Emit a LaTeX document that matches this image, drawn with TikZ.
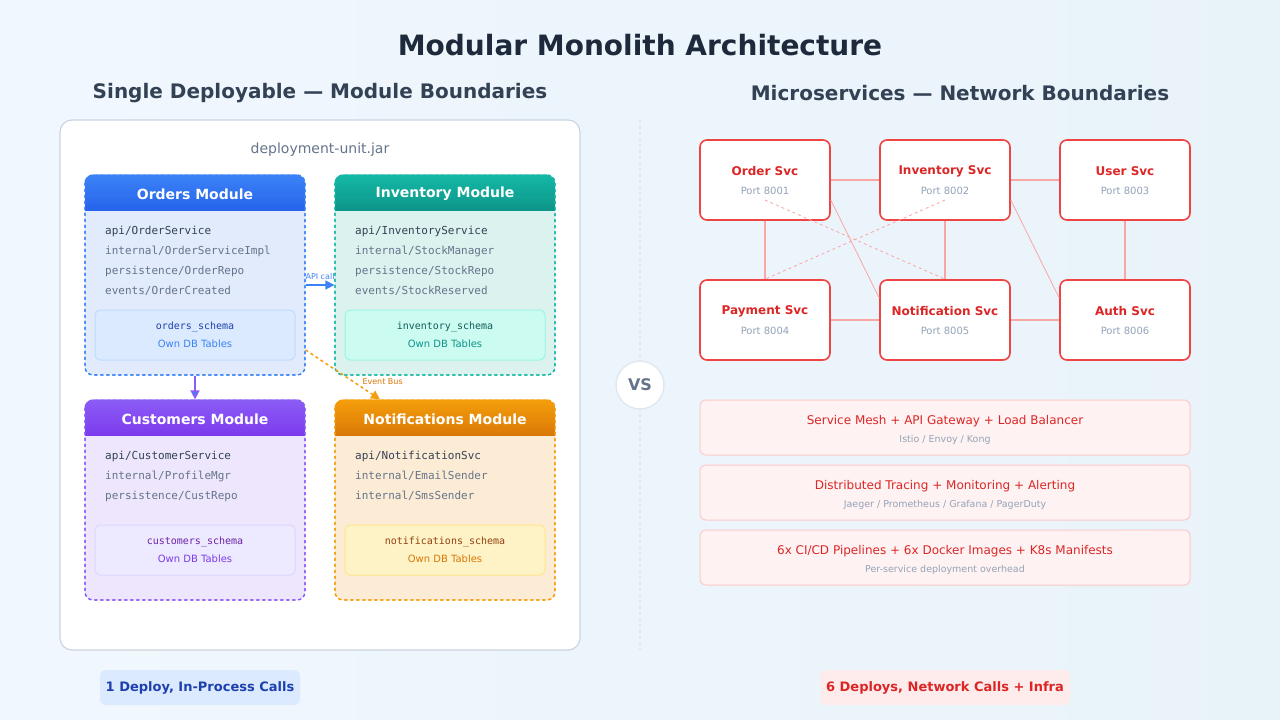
\documentclass[tikz,border=0pt]{standalone}
\usepackage{fontspec}
\setmainfont{DejaVu Sans}
\setmonofont{DejaVu Sans Mono}
\usetikzlibrary{arrows.meta}
\definecolor{bgA}{HTML}{F1F7FE}\definecolor{bgB}{HTML}{E8F3F9}
\definecolor{slate}{HTML}{1E293B}\definecolor{slateb}{HTML}{334155}
\definecolor{gr}{HTML}{64748B}\definecolor{lg}{HTML}{94A3B8}
\definecolor{bord}{HTML}{CBD5E1}\definecolor{divc}{HTML}{E2E8F0}
\definecolor{bl1}{HTML}{3B82F6}\definecolor{bl2}{HTML}{2563EB}\definecolor{blf}{HTML}{E1EBFC}
\definecolor{bls}{HTML}{DBEAFE}\definecolor{blb}{HTML}{BFDBFE}\definecolor{blt}{HTML}{1E40AF}
\definecolor{te1}{HTML}{14B8A6}\definecolor{te2}{HTML}{0D9488}\definecolor{tef}{HTML}{DCF2EF}
\definecolor{tes}{HTML}{CCFBF1}\definecolor{teb}{HTML}{99F6E4}\definecolor{tet}{HTML}{115E59}
\definecolor{pu1}{HTML}{8B5CF6}\definecolor{pu2}{HTML}{7C3AED}\definecolor{puf}{HTML}{EDE6FD}
\definecolor{pus}{HTML}{EDE9FE}\definecolor{pub}{HTML}{DDD6FE}\definecolor{put}{HTML}{6B21A8}
\definecolor{or1}{HTML}{F59E0B}\definecolor{or2}{HTML}{D97706}\definecolor{orf}{HTML}{FDECD5}
\definecolor{ors}{HTML}{FEF3C7}\definecolor{orb}{HTML}{FDE68A}\definecolor{ort}{HTML}{92400E}
\definecolor{rd}{HTML}{EF4444}\definecolor{rdt}{HTML}{DC2626}\definecolor{rdl}{HTML}{FCA5A5}
\definecolor{rdf}{HTML}{FEF2F2}\definecolor{rdb}{HTML}{FECACA}\definecolor{rdp}{HTML}{FEE2E2}
\definecolor{codec}{HTML}{334155}\definecolor{codeg}{HTML}{64748B}
\tikzset{
 mod/.style={draw=#1,dashed,line width=1.2pt,rounded corners=8pt,minimum width=220pt,minimum height=200pt,inner sep=0pt},
 code/.style={anchor=west,font=\ttfamily\fontsize{11}{11}\selectfont,text=codeg,inner sep=0pt},
 codeb/.style={code,text=codec},
 schema/.style={rounded corners=5pt,minimum width=200pt,minimum height=50pt,line width=1pt,inner sep=0pt},
 svc/.style={draw=rd,line width=1.6pt,fill=white,rounded corners=7pt,minimum width=130pt,minimum height=80pt,inner sep=0pt},
 link/.style={draw=rdl,line width=1.1pt},
 info/.style={fill=rdf,draw=rdb,line width=1pt,rounded corners=6pt,minimum width=490pt,minimum height=55pt,inner sep=0pt},
 hd/.style={font=\bfseries\fontsize{14}{14}\selectfont,text=white},
}
\newcommand{\modhead}[5]{% x y name c1 c2
 \shade[top color=#4,bottom color=#5,rounded corners=8pt] (#1,#2) rectangle ++(220,35);
 \shade[top color=#4!50!#5,bottom color=#5] (#1,#2+20) rectangle ++(220,15);
}
\begin{document}
\begin{tikzpicture}[x=1pt,y=-1pt]
\useasboundingbox (0,0) rectangle (1280,720);
\shade[left color=bgA,right color=bgB] (0,0) rectangle (1280,720);
\node[font=\bfseries\fontsize{28}{28}\selectfont,text=slate] (title) at (640,45) {Modular Monolith Architecture};
\node[font=\bfseries\fontsize{20}{20}\selectfont,text=slateb] (st1) at (320,93) {Single Deployable — Module Boundaries};
\node[font=\bfseries\fontsize{20}{20}\selectfont,text=slateb] (st2) at (960,93) {Microservices — Network Boundaries};
% outer
\node[draw=bord,fill=white,line width=1.2pt,rounded corners=12pt,minimum width=520pt,minimum height=530pt] (unit) at (320,385) {};
\node[text=gr,font=\fontsize{14}{14}\selectfont] (jar) at (320,150) {deployment-unit.jar};
% modules
\node[mod=bl1,fill=blf] (om) at (195,275) {};
\node[mod=te1,fill=tef] (im) at (445,275) {};
\node[mod=pu1,fill=puf] (cm) at (195,500) {};
\node[mod=or1,fill=orf] (nm) at (445,500) {};
\modhead{85}{175}{o}{bl1}{bl2}
\modhead{335}{175}{i}{te1}{te2}
\modhead{85}{400}{c}{pu1}{pu2}
\modhead{335}{400}{n}{or1}{or2}
\draw[bl1,dashed,line width=1.2pt,rounded corners=8pt] (85,175) rectangle (305,375);
\draw[te1,dashed,line width=1.2pt,rounded corners=8pt] (335,175) rectangle (555,375);
\draw[pu1,dashed,line width=1.2pt,rounded corners=8pt] (85,400) rectangle (305,600);
\draw[or1,dashed,line width=1.2pt,rounded corners=8pt] (335,400) rectangle (555,600);
\node[hd] (omh) at (195,194) {Orders Module};
\node[hd] (imh) at (445,194) {Inventory Module};
\node[hd] (cmh) at (195,419) {Customers Module};
\node[hd] (nmh) at (445,419) {Notifications Module};
% code lines
\node[codeb] (o1) at (105,231) {api/OrderService};
\node[code] (o2) at (105,251) {internal/OrderServiceImpl};
\node[code] (o3) at (105,271) {persistence/OrderRepo};
\node[code] (o4) at (105,291) {events/OrderCreated};
\node[codeb] (i1) at (355,231) {api/InventoryService};
\node[code] (i2) at (355,251) {internal/StockManager};
\node[code] (i3) at (355,271) {persistence/StockRepo};
\node[code] (i4) at (355,291) {events/StockReserved};
\node[codeb] (c1) at (105,456) {api/CustomerService};
\node[code] (c2) at (105,476) {internal/ProfileMgr};
\node[code] (c3) at (105,496) {persistence/CustRepo};
\node[codeb] (n1) at (355,456) {api/NotificationSvc};
\node[code] (n2) at (355,476) {internal/EmailSender};
\node[code] (n3) at (355,496) {internal/SmsSender};
% schemas
\newcommand{\schema}[7]{%
 \node[schema,fill=#3,draw=#4] (#1) at #2 {};
 \node[font=\ttfamily\fontsize{10}{10}\selectfont,text=#5] at ([yshift=8pt]#1.center) {#6};
 \node[font=\fontsize{10}{10}\selectfont,text=#7] at ([yshift=-9pt]#1.center) {Own DB Tables};}
\schema{os}{(195,335)}{bls}{blb}{blt}{orders\_schema}{bl1}
\schema{is}{(445,335)}{tes}{teb}{tet}{inventory\_schema}{te2}
\schema{cs}{(195,550)}{pus}{pub}{put}{customers\_schema}{pu2}
\schema{ns}{(445,550)}{ors}{orb}{ort}{notifications\_schema}{or2}
% arrows
\draw[bl1,line width=1.5pt,-{Triangle[length=9pt,width=9pt]}] ([yshift=-10pt]om.east) -- ([yshift=-10pt]im.west) node[midway,above=1pt,font=\fontsize{8}{8}\selectfont,text=bl1]{API call};
\draw[pu1,line width=1.5pt,-{Triangle[length=9pt,width=9pt,fill=bl1]}] (om.south) -- (cm.north);
\draw[or1,dashed,line width=1.5pt,-{Triangle[length=9pt,width=9pt]}] ([yshift=-75pt]om.east) -- ([xshift=-65pt]nm.north);
\node[font=\fontsize{8}{8}\selectfont,text=or2,anchor=west] (eb) at (359,382) {Event Bus};
% divider and VS
\draw[divc,dashed,line width=1.2pt] (640,120) coordinate (d1) -- (640,650) coordinate (d2);
\node[circle,draw=divc,fill=white,line width=1.5pt,minimum size=48pt,font=\bfseries\fontsize{16}{16}\selectfont,text=gr] (vs) at (640,385) {VS};
% services
\newcommand{\svc}[4]{\node[svc] (#1) at #2 {};
 \node[font=\bfseries\fontsize{12}{12}\selectfont,text=rdt] at ([yshift=9pt]#1.center) {#3};
 \node[font=\fontsize{10}{10}\selectfont,text=lg] at ([yshift=-11pt]#1.center) {#4};}
\draw[link] (765,180) coordinate (x0) -- (x0);
\svc{s1}{(765,180)}{Order Svc}{Port 8001}
\svc{s2}{(945,180)}{Inventory Svc}{Port 8002}
\svc{s3}{(1125,180)}{User Svc}{Port 8003}
\svc{s4}{(765,320)}{Payment Svc}{Port 8004}
\svc{s5}{(945,320)}{Notification Svc}{Port 8005}
\svc{s6}{(1125,320)}{Auth Svc}{Port 8006}
\draw[link] (s1.east) -- (s2.west);
\draw[link] (s2.east) -- (s3.west);
\draw[link] (s1.south) -- (s4.north);
\draw[link] (s2.south) -- (s5.north);
\draw[link] (s3.south) -- (s6.north);
\draw[link] (s4.east) -- (s5.west);
\draw[link] (s5.east) -- (s6.west);
\draw[link,line width=0.8pt] ([yshift=-20pt]s1.east) -- ([yshift=22pt]s5.west);
\draw[link,line width=0.8pt] ([yshift=-20pt]s2.east) -- ([yshift=22pt]s6.west);
\draw[link,line width=0.8pt,dashed] ([yshift=-20pt]s1.center) -- (s5.north);
\draw[link,line width=0.8pt,dashed] ([yshift=-20pt]s2.center) -- (s4.north);
% info boxes
\newcommand{\info}[4]{\node[info] (#1) at #2 {};
 \node[font=\fontsize{12}{12}\selectfont,text=rdt] at ([yshift=6pt]#1.center) {#3};
 \node[font=\fontsize{9.5}{9.5}\selectfont,text=lg] at ([yshift=-12pt]#1.center) {#4};}
\info{b1}{(945,427.5)}{Service Mesh + API Gateway + Load Balancer}{Istio / Envoy / Kong}
\info{b2}{(945,492.5)}{Distributed Tracing + Monitoring + Alerting}{Jaeger / Prometheus / Grafana / PagerDuty}
\info{b3}{(945,557.5)}{6x CI/CD Pipelines + 6x Docker Images + K8s Manifests}{Per-service deployment overhead}
% pills
\node[fill=bls,rounded corners=6pt,minimum width=200pt,minimum height=35pt,font=\bfseries\fontsize{13}{13}\selectfont,text=blt] (p1) at (200,687.5) {1 Deploy, In-Process Calls};
\node[fill=rdp!70!white,rounded corners=6pt,minimum width=250pt,minimum height=35pt,font=\bfseries\fontsize{13}{13}\selectfont,text=rdt] (p2) at (945,687.5) {6 Deploys, Network Calls + Infra};
\end{tikzpicture}
\end{document}
